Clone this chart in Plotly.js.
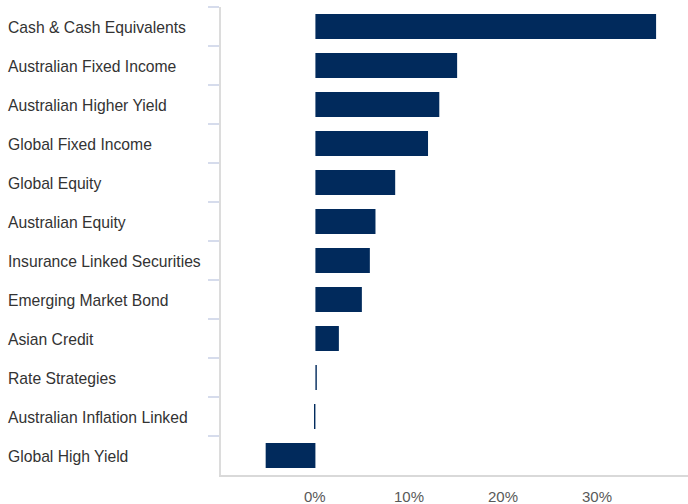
<!DOCTYPE html>
<html>
<head>
<meta charset="utf-8">
<script src="https://cdn.plot.ly/plotly-3.0.1.min.js"></script>
<style>html,body{margin:0;padding:0;background:#fff;}#chart{width:688px;height:504px;}</style>
</head>
<body>
<div id="chart"></div>
<script>
const categories = [
  "Cash & Cash Equivalents",
  "Australian Fixed Income",
  "Australian Higher Yield",
  "Global Fixed Income",
  "Global Equity",
  "Australian Equity",
  "Insurance Linked Securities",
  "Emerging Market Bond",
  "Asian Credit",
  "Rate Strategies",
  "Australian Inflation Linked",
  "Global High Yield"
];
const weights = [36.3, 15.1, 13.2, 12.0, 8.5, 6.4, 5.8, 4.95, 2.5, 0.15, -0.15, -5.3];
const xTickVals = [0, 10, 20, 30];
const xTickText = ["0%", "10%", "20%", "30%"];

const trace = {
  type: "bar",
  orientation: "h",
  y: categories,
  x: weights,
  marker: {color: "#012a5c"},
  hoverinfo: "skip"
};

const tickFont = {family: "Liberation Sans, Arial, sans-serif", size: 15, color: "#595959"};

const annotations = categories.map(c => ({
  xref: "paper", yref: "y",
  x: -0.4603, y: c,
  xanchor: "left", yanchor: "middle",
  yshift: -1,
  text: c, showarrow: false,
  font: {family: "Liberation Sans, Arial, sans-serif", size: 15.7, color: "#333333"}
})).concat(xTickVals.map((v, i) => ({
  xref: "x", yref: "paper",
  x: v, y: 0,
  xanchor: "center", yanchor: "middle",
  yshift: -21,
  text: xTickText[i], showarrow: false,
  font: tickFont
})));

const layout = {
  width: 688, height: 504,
  margin: {l: 221, r: 0, t: 7, b: 29},
  paper_bgcolor: "#ffffff", plot_bgcolor: "#ffffff",
  showlegend: false,
  bargap: 0.36,
  xaxis: {
    range: [-10.06, 39.7],
    tickvals: xTickVals, ticktext: xTickText,
    showticklabels: false,
    showgrid: false, zeroline: false,
    showline: true, linecolor: "#d9d9d9", linewidth: 1.5,
    ticks: "",
    fixedrange: true
  },
  yaxis: {
    type: "category",
    categoryorder: "array", categoryarray: categories,
    autorange: "reversed",
    tickson: "boundaries",
    ticks: "outside", ticklen: 11, tickcolor: "#d6dcec", tickwidth: 1.5,
    showticklabels: false,
    showgrid: false, zeroline: false,
    showline: true, linecolor: "#dcdcdc", linewidth: 2,
    fixedrange: true
  },
  annotations: annotations
};

Plotly.newPlot("chart", [trace], layout, {displayModeBar: false, staticPlot: true});
</script>
</body>
</html>
